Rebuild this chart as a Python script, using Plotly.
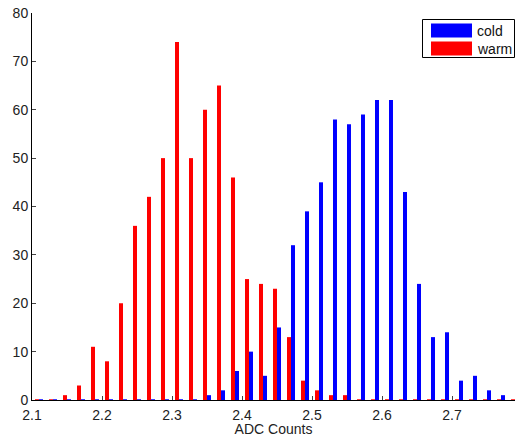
import plotly.graph_objects as go

# bin centres (ADC counts)
bin_centers = [2.11, 2.13, 2.15, 2.17, 2.19, 2.21, 2.23, 2.25, 2.27, 2.29,
               2.31, 2.33, 2.35, 2.37, 2.39, 2.41, 2.43, 2.45, 2.47, 2.49,
               2.51, 2.53, 2.55, 2.57, 2.59, 2.61, 2.63, 2.65, 2.67, 2.69,
               2.71, 2.73, 2.75, 2.77, 2.79]

warm_counts = [0, 0, 1, 3, 11, 8, 20, 36, 42, 50,
               74, 50, 60, 65, 46, 25, 24, 23, 13, 4,
               2, 1, 1, 0, 0, 0, 0, 0, 0, 0,
               0, 0, 0, 0, 0]

cold_counts = [0, 0, 0, 0, 0, 0, 0, 0, 0, 0,
               0, 0, 1, 2, 6, 10, 5, 15, 32, 39,
               45, 58, 57, 59, 62, 62, 43, 24, 13, 14,
               4, 5, 2, 1, 0]

series_names = ["cold", "warm"]
series_colors = {"cold": "#0000ff", "warm": "#ff0000"}

x_ticks = [2.1, 2.2, 2.3, 2.4, 2.5, 2.6, 2.7]
y_ticks = [0, 10, 20, 30, 40, 50, 60, 70, 80]

W, H = 515, 437
ML, MR, MT, MB = 32, 0, 13, 37
PW, PH = W - ML - MR, H - MT - MB

def px(xp):
    return (xp - ML) / PW

def py(yp):
    return (H - MB - yp) / PH

FONT = "Liberation Sans, Arial, Helvetica, sans-serif"

def bar_trace(name, counts):
    # zero-height bins drawn as a thin edge line on the baseline (as in the original)
    widths = [1 if c == 0 else 0 for c in counts]
    return go.Bar(x=bin_centers, y=counts, name=name,
                  marker=dict(color=series_colors[name],
                              line=dict(width=widths, color=series_colors[name])),
                  showlegend=False)

fig = go.Figure()
fig.add_trace(bar_trace("warm", warm_counts))
fig.add_trace(bar_trace("cold", cold_counts))

shapes = []
annotations = []
# legend box
shapes.append(dict(type="rect", xref="paper", yref="paper",
                   x0=px(422.5), x1=px(514.5), y0=py(57.5), y1=py(19.5),
                   line=dict(color="black", width=1), fillcolor="white", layer="above"))
rows = [(23.5, 37.5), (41.5, 55.5)]
for name, (top, bot) in zip(series_names, rows):
    shapes.append(dict(type="rect", xref="paper", yref="paper",
                       x0=px(431), x1=px(472), y0=py(bot), y1=py(top),
                       line=dict(width=0), fillcolor=series_colors[name], layer="above"))
    annotations.append(dict(xref="paper", yref="paper", x=px(475), y=py((top + bot) / 2),
                            text=name, showarrow=False, xanchor="left", yanchor="middle",
                            font=dict(family=FONT, size=14, color="#111")))

fig.update_layout(
    width=W, height=H,
    margin=dict(l=ML, r=MR, t=MT, b=MB, autoexpand=False),
    paper_bgcolor="white", plot_bgcolor="white",
    barmode="group", bargap=0.43, bargroupgap=0,
    font=dict(family=FONT, size=14, color="#222"),
    shapes=shapes, annotations=annotations,
    xaxis=dict(range=[2.1, 2.79], tickvals=x_ticks,
               ticktext=[f"{v:.1f}" for v in x_ticks],
               ticks="inside", ticklen=4, tickcolor="#444",
               ticklabelstandoff=2,
               showline=True, linecolor="black", linewidth=1,
               showgrid=False, zeroline=False,
               title=dict(text="ADC Counts", standoff=2,
                          font=dict(family=FONT, size=14, color="#222")),
               tickfont=dict(family=FONT, size=14, color="#222")),
    yaxis=dict(range=[0, 80], tickvals=y_ticks,
               ticks="inside", ticklen=4, tickcolor="#444",
               showline=True, linecolor="black", linewidth=1,
               showgrid=False, zeroline=False,
               tickfont=dict(family=FONT, size=14, color="#222")),
)

fig.write_html("out.html")
